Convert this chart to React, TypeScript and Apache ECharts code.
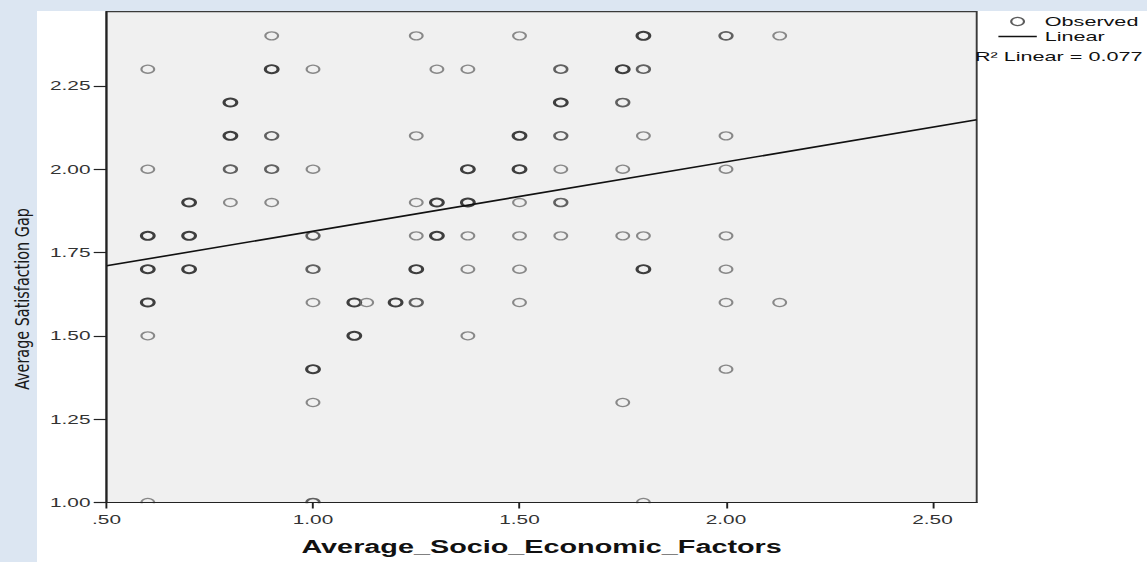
import React, { useEffect, useRef } from "react";
import * as echarts from "echarts";

// horizontal stretch of the original picture
const S = 1.6;
const W = 1147;
const H = 562;

// Observed points: x, y and number of overlapping observations (drawn darker)
const obsX = [
  0.6, 0.6, 0.6, 0.6, 0.6, 0.6, 0.6,
  0.7, 0.7, 0.7,
  0.8, 0.8, 0.8, 0.8,
  0.9, 0.9, 0.9, 0.9, 0.9,
  1.0, 1.0, 1.0, 1.0, 1.0, 1.0, 1.0, 1.0,
  1.1, 1.1,
  1.13,
  1.2,
  1.25, 1.25, 1.25, 1.25, 1.25, 1.25,
  1.3, 1.3, 1.3,
  1.375, 1.375, 1.375, 1.375, 1.375, 1.375,
  1.5, 1.5, 1.5, 1.5, 1.5, 1.5, 1.5,
  1.6, 1.6, 1.6, 1.6, 1.6, 1.6,
  1.75, 1.75, 1.75, 1.75, 1.75,
  1.8, 1.8, 1.8, 1.8, 1.8, 1.8,
  2.0, 2.0, 2.0, 2.0, 2.0, 2.0, 2.0,
  2.13, 2.13,
];
const obsY = [
  2.3, 2.0, 1.8, 1.7, 1.6, 1.5, 1.0,
  1.9, 1.8, 1.7,
  2.2, 2.1, 2.0, 1.9,
  2.4, 2.3, 2.1, 2.0, 1.9,
  2.3, 2.0, 1.8, 1.7, 1.6, 1.4, 1.3, 1.0,
  1.6, 1.5,
  1.6,
  1.6,
  2.4, 2.1, 1.9, 1.8, 1.7, 1.6,
  2.3, 1.9, 1.8,
  2.3, 2.0, 1.9, 1.8, 1.7, 1.5,
  2.4, 2.1, 2.0, 1.9, 1.8, 1.7, 1.6,
  2.3, 2.2, 2.1, 2.0, 1.9, 1.8,
  2.3, 2.2, 2.0, 1.8, 1.3,
  2.4, 2.3, 2.1, 1.8, 1.7, 1.0,
  2.4, 2.1, 2.0, 1.8, 1.7, 1.6, 1.4,
  2.4, 1.6,
];
const obsN = [
  1, 1, 3, 3, 3, 1, 1,
  3, 3, 3,
  3, 3, 2, 1,
  1, 3, 2, 2, 1,
  1, 1, 2, 2, 1, 3, 1, 2,
  3, 3,
  1,
  3,
  1, 1, 1, 1, 3, 2,
  1, 3, 3,
  1, 3, 3, 1, 1, 1,
  1, 3, 3, 1, 1, 1, 1,
  2, 3, 2, 1, 2, 1,
  3, 2, 1, 1, 1,
  3, 2, 1, 1, 3, 1,
  2, 1, 1, 1, 1, 1, 1,
  1, 1,
];

const xTicks = [0.5, 1.0, 1.5, 2.0, 2.5];
const yTicks = [1.0, 1.25, 1.5, 1.75, 2.0, 2.25];
const xRange = [0.5, 2.607];
const yRange = [1.0, 2.4725];

const fitIntercept = 1.606;
const fitSlope = 0.208;
const rSquared = 0.077;

const FONT = "'Liberation Sans', Arial, sans-serif";

function strokeFor(n: number) {
  if (n >= 3) return { c: "#111111", w: 1.9 };
  if (n === 2) return { c: "#3c3c3c", w: 1.6 };
  return { c: "#6e6e6e", w: 1.3 };
}

function fmt(v: number) {
  return v.toFixed(2).replace(/^0\./, ".");
}

export default function App() {
  const ref = useRef<HTMLDivElement>(null);

  useEffect(() => {
    if (!ref.current) return;
    const chart = echarts.init(ref.current, undefined, { renderer: "svg" });

    const scatterData = obsX.map((x, i) => {
      const s = strokeFor(obsN[i]);
      return {
        value: [x, obsY[i]],
        itemStyle: { color: "rgba(0,0,0,0)", borderColor: s.c, borderWidth: s.w },
      };
    });
    const fitData = xRange.map((x) => [x, fitIntercept + fitSlope * x]);

    const gridLeft = 106.5 / S;
    const gridRight = (W - 976.5) / S;
    const gridTop = 11.7;
    const gridBottom = H - 502.5;

    chart.setOption({
      animation: false,
      backgroundColor: "transparent",
      grid: {
        left: gridLeft,
        right: gridRight,
        top: gridTop,
        bottom: gridBottom,
        show: true,
        backgroundColor: "#f0f0f0",
        borderColor: "#3a3a3a",
        borderWidth: 1.2,
      },
      xAxis: {
        type: "value",
        z: 6,
        min: xRange[0],
        max: xRange[1],
        splitLine: { show: false },
        axisLine: { show: true, onZero: false, lineStyle: { color: "#222", width: 1.2 } },
        axisTick: { show: true, length: 6, customValues: xTicks, lineStyle: { color: "#222", width: 1.2 } },
        axisLabel: {
          customValues: xTicks,
          formatter: (v: number) => fmt(v),
          color: "#333",
          fontFamily: FONT,
          fontSize: 13,
          margin: 10,
        },
        name: "Average_Socio_Economic_Factors",
        nameLocation: "middle",
        nameGap: 35,
        nameTextStyle: { fontFamily: FONT, fontWeight: "bold", fontSize: 18, color: "#111" },
      },
      yAxis: {
        type: "value",
        z: 6,
        min: yRange[0],
        max: yRange[1],
        splitLine: { show: false },
        axisLine: { show: true, onZero: false, lineStyle: { color: "#222", width: 1.2 } },
        axisTick: { show: true, length: 8, customValues: yTicks, lineStyle: { color: "#222", width: 1.2 } },
        axisLabel: {
          customValues: yTicks,
          formatter: (v: number) => fmt(v),
          color: "#333",
          fontFamily: FONT,
          fontSize: 13,
          margin: 10,
        },
      },
      legend: {
        orient: "vertical",
        left: 619,
        top: 9.5,
        itemWidth: 24,
        itemHeight: 8,
        itemGap: 1,
        textStyle: { fontFamily: FONT, fontSize: 13.5, color: "#111", lineHeight: 13 },
        data: [
          {
            name: "Observed",
            icon: "circle",
            itemStyle: { color: "rgba(0,0,0,0)", borderColor: "#333", borderWidth: 1.3 },
          },
          {
            name: "Linear",
            icon: "path://M0,0 L24,0 L24,1.3 L0,1.3 Z",
            itemStyle: { color: "#111", borderWidth: 0 },
          },
        ],
      },
      graphic: [
        {
          // hides the part of markers that falls below the x axis, as in the original
          type: "rect",
          z: 5,
          shape: {
            x: gridLeft + 0.8,
            y: H - gridBottom + 0.7,
            width: W / S - gridLeft - gridRight - 1.6,
            height: 8,
          },
          style: { fill: "#ffffff" },
        },
        {
          type: "text",
          x: 22 / S,
          y: 299,
          rotation: Math.PI / 2,
          scaleX: 0.8,
          scaleY: 1 / S,
          style: {
            text: "Average Satisfaction Gap",
            font: "20px 'Liberation Sans Narrow', 'DejaVu Sans Condensed', Roboto, sans-serif",
            fill: "#1a1a1a",
            align: "center",
            verticalAlign: "middle",
          },
        },
        {
          type: "text",
          x: 975 / S,
          y: 57,
          style: {
            text: `R² Linear = ${rSquared.toFixed(3)}`,
            font: `13.5px ${FONT}`,
            fill: "#111",
            align: "left",
            verticalAlign: "middle",
          },
        },
      ],
      series: [
        {
          name: "Observed",
          type: "scatter",
          symbol: "circle",
          symbolSize: 8,
          clip: false,
          itemStyle: { color: "rgba(0,0,0,0)", borderColor: "#333", borderWidth: 1.3 },
          data: scatterData,
          z: 3,
        },
        {
          name: "Linear",
          type: "line",
          symbol: "none",
          showSymbol: false,
          lineStyle: { color: "#111", width: 1.6 },
          itemStyle: { color: "#111" },
          data: fitData,
          z: 4,
        },
      ],
    });

    return () => chart.dispose();
  }, []);

  return (
    <div
      style={{
        position: "fixed",
        left: 0,
        top: 0,
        width: W,
        height: H,
        background: "#dce6f2",
        overflow: "hidden",
      }}
    >
      <div style={{ position: "absolute", left: 37, top: 11, right: 0, bottom: 0, background: "#ffffff" }} />
      <div
        ref={ref}
        style={{
          position: "absolute",
          left: 0,
          top: 0,
          width: W / S,
          height: H,
          transform: `scaleX(${S})`,
          transformOrigin: "0 0",
        }}
      />
    </div>
  );
}
